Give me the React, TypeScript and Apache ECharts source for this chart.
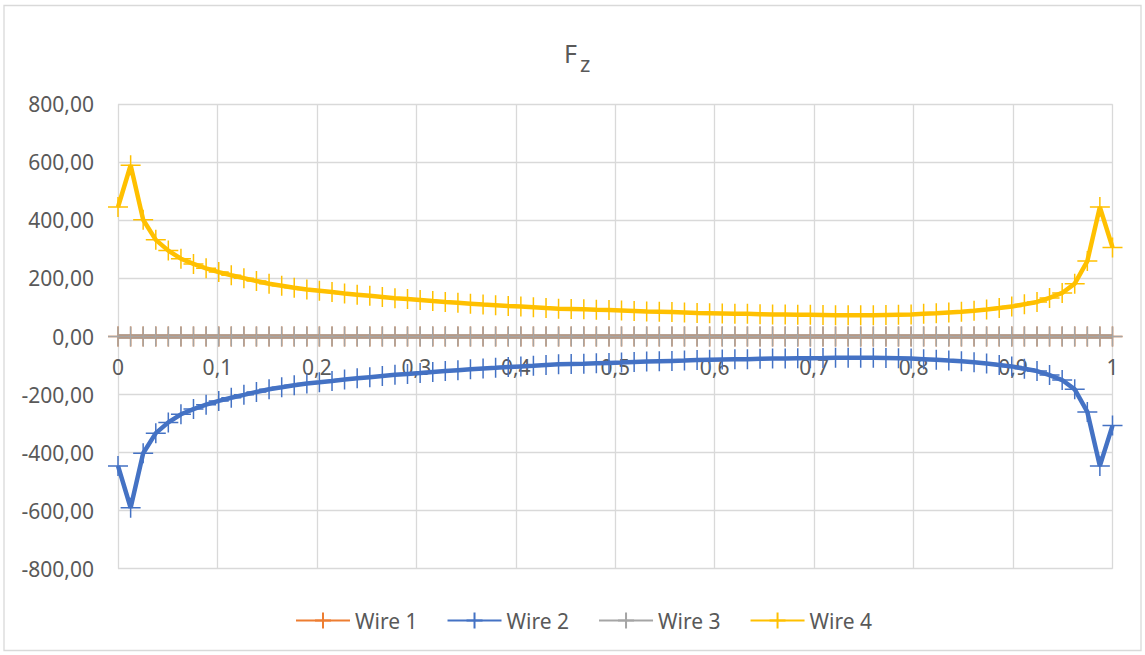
import React, { useEffect, useRef } from "react";
import * as echarts from "echarts";

const xValues = [
  0, 0.0127, 0.0253, 0.038, 0.0506, 0.0633, 0.0759, 0.0886, 0.1013, 0.1139,
  0.1266, 0.1392, 0.1519, 0.1646, 0.1772, 0.1899, 0.2025, 0.2152, 0.2278, 0.2405,
  0.2532, 0.2658, 0.2785, 0.2911, 0.3038, 0.3165, 0.3291, 0.3418, 0.3544, 0.3671,
  0.3797, 0.3924, 0.4051, 0.4177, 0.4304, 0.443, 0.4557, 0.4684, 0.481, 0.4937,
  0.5063, 0.519, 0.5316, 0.5443, 0.557, 0.5696, 0.5823, 0.5949, 0.6076, 0.6203,
  0.6329, 0.6456, 0.6582, 0.6709, 0.6835, 0.6962, 0.7089, 0.7215, 0.7342, 0.7468,
  0.7595, 0.7722, 0.7848, 0.7975, 0.8101, 0.8228, 0.8354, 0.8481, 0.8608, 0.8734,
  0.8861, 0.8987, 0.9114, 0.9241, 0.9367, 0.9494, 0.962, 0.9747, 0.9873, 1,
];

const wire1 = [
  0, 0, 0, 0, 0, 0, 0, 0, 0, 0, 0, 0, 0, 0, 0, 0, 0, 0, 0, 0,
  0, 0, 0, 0, 0, 0, 0, 0, 0, 0, 0, 0, 0, 0, 0, 0, 0, 0, 0, 0,
  0, 0, 0, 0, 0, 0, 0, 0, 0, 0, 0, 0, 0, 0, 0, 0, 0, 0, 0, 0,
  0, 0, 0, 0, 0, 0, 0, 0, 0, 0, 0, 0, 0, 0, 0, 0, 0, 0, 0, 0,
];

const wire2 = [
  -446, -590, -402, -333, -296, -268, -250, -235, -222, -211,
  -201, -191, -182, -175, -168, -162, -158, -153, -148, -144,
  -140, -136, -132, -129, -126, -122, -119, -116, -113, -110,
  -108, -105, -103, -101, -98, -96, -95, -94, -92, -91,
  -90, -88, -86, -85, -84, -83, -81, -80, -79, -78,
  -78, -77, -76, -76, -75, -75, -74, -73, -73, -73,
  -73, -74, -75, -76, -78, -80, -83, -85, -89, -93,
  -98, -103, -111, -119, -133, -150, -182, -260, -446, -307,
];

const wire3 = [
  0, 0, 0, 0, 0, 0, 0, 0, 0, 0, 0, 0, 0, 0, 0, 0, 0, 0, 0, 0,
  0, 0, 0, 0, 0, 0, 0, 0, 0, 0, 0, 0, 0, 0, 0, 0, 0, 0, 0, 0,
  0, 0, 0, 0, 0, 0, 0, 0, 0, 0, 0, 0, 0, 0, 0, 0, 0, 0, 0, 0,
  0, 0, 0, 0, 0, 0, 0, 0, 0, 0, 0, 0, 0, 0, 0, 0, 0, 0, 0, 0,
];

const wire4 = [
  446, 590, 402, 333, 296, 268, 250, 235, 222, 211,
  201, 191, 182, 175, 168, 162, 158, 153, 148, 144,
  140, 136, 132, 129, 126, 122, 119, 116, 113, 110,
  108, 105, 103, 101, 98, 96, 95, 94, 92, 91,
  90, 88, 86, 85, 84, 83, 81, 80, 79, 78,
  78, 77, 76, 76, 75, 75, 74, 73, 73, 73,
  73, 74, 75, 76, 78, 80, 83, 85, 89, 93,
  98, 103, 111, 119, 133, 150, 182, 260, 446, 307,
];

const seriesNames = ["Wire 1", "Wire 2", "Wire 3", "Wire 4"];
const seriesColors = ["#ED7D31", "#4472C4", "#A5A5A5", "#FFC000"];
const seriesValues = [wire1, wire2, wire3, wire4];

const PLUS = "path://M10,0L10,20M0,10L20,10";
const FONT = "Noto Sans";
const TEXT = "#595959";
const GRID = "#D9D9D9";

const GRID_TOP = 104.3;
const GRID_BOTTOM = 86.3;
const Y_MIN = -800;
const Y_MAX = 800;

export default function App() {
  const ref = useRef<HTMLDivElement>(null);

  useEffect(() => {
    if (!ref.current) return;
    const chart = echarts.init(ref.current, undefined, { renderer: "svg" });
    const fmtComma = (v: number, d: number) => v.toFixed(d).replace(".", ",");
    const plotH = 655 - GRID_TOP - GRID_BOTTOM;
    // shift the horizontal axis up so it sits on the value 0
    const zeroOffset = -plotH * ((0 - Y_MIN) / (Y_MAX - Y_MIN));

    chart.setOption({
      animation: false,
      backgroundColor: "#ffffff",
      textStyle: { fontFamily: FONT },
      graphic: [
        {
          type: "rect",
          shape: { x: 4, y: 5.5, width: 1137, height: 645 },
          style: { fill: "none", stroke: GRID, lineWidth: 1.3 },
          silent: true,
        },
        {
          type: "text",
          x: 564,
          y: 52.5,
          style: {
            text: "F",
            fontSize: 25,
            fontFamily: FONT,
            fill: TEXT,
            verticalAlign: "middle",
          },
        },
        {
          type: "text",
          x: 580,
          y: 62.5,
          style: {
            text: "z",
            fontSize: 22,
            fontFamily: FONT,
            fill: TEXT,
            verticalAlign: "middle",
          },
        },
      ],
      grid: { left: 118, right: 32.5, top: GRID_TOP, bottom: GRID_BOTTOM, containLabel: false },
      legend: {
        left: 290,
        top: 605,
        itemWidth: 54,
        itemHeight: 20,
        itemGap: 29,
        textStyle: { color: TEXT, fontSize: 21, fontFamily: FONT },
        data: seriesNames,
      },
      xAxis: {
        type: "value",
        min: 0,
        max: 1,
        interval: 0.1,
        position: "bottom",
        offset: zeroOffset,
        axisLine: { show: true, onZero: false, lineStyle: { color: GRID, width: 1.3 } },
        axisTick: { show: false },
        axisLabel: {
          color: TEXT,
          fontSize: 21,
          fontFamily: FONT,
          margin: 20,
          formatter: (v: number) => (v === 0 || v === 1 ? String(v) : fmtComma(v, 1)),
        },
        splitLine: { show: true, lineStyle: { color: GRID, width: 1.3 } },
      },
      yAxis: {
        type: "value",
        min: Y_MIN,
        max: Y_MAX,
        interval: 200,
        axisLine: { show: false },
        axisTick: { show: false },
        axisLabel: {
          color: TEXT,
          fontSize: 21,
          fontFamily: FONT,
          margin: 24,
          formatter: (v: number) => fmtComma(v, 2),
        },
        splitLine: { show: true, lineStyle: { color: GRID, width: 1.3 } },
      },
      series: seriesNames.map((name, k) => ({
        name,
        type: "line",
        data: xValues.map((x, i) => [x, seriesValues[k][i]]),
        symbol: PLUS,
        symbolSize: 20,
        showSymbol: true,
        smooth: false,
        lineStyle: { color: seriesColors[k], width: 4.5 },
        itemStyle: {
          color: seriesColors[k],
          borderColor: seriesColors[k],
          borderWidth: 1.5,
        },
        emphasis: { disabled: true },
      })),
    });

    return () => chart.dispose();
  }, []);

  return (
    <div
      ref={ref}
      style={{ position: "fixed", left: 0, top: 0, width: 1145, height: 655, background: "#fff" }}
    />
  );
}
